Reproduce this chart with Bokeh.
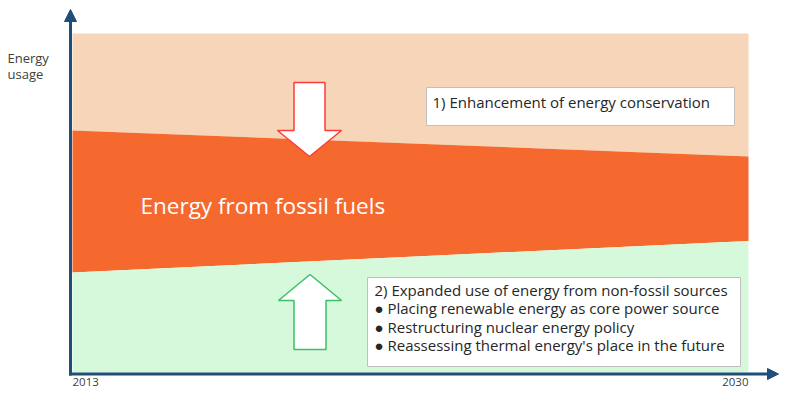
from bokeh.plotting import figure
from bokeh.models import Range1d, Arrow, NormalHead
from bokeh.core.properties import value
from bokeh.embed import file_html
from bokeh.resources import INLINE

# ---- data ----
years = [2013, 2030]
total_usage = [100, 100]
fossil_top = [71.4, 63.7]
nonfossil_top = [29.5, 38.8]
year_labels = ["2013", "2030"]
y_title = ["Energy", "usage"]
fossil_label = ["Energy from fossil fuels"]
box1_lines = ["1) Enhancement of energy conservation"]
box2_lines = [
    "2) Expanded use of energy from non-fossil sources",
    "\u25CF Placing renewable energy as core power source",
    "\u25CF Restructuring nuclear energy policy",
    "\u25CF Reassessing thermal energy's place in the future",
]

# ---- layout helpers (pixel layout -> data space) ----
W, H = 779, 387
KX = 676 / 17.0
Y0 = 372.0
KY = (Y0 - 33) / 100.0
def X(px):
    return 2013 + (px - 72) / KX
def Y(py):
    return (Y0 - py) / KY

FONT = value("Open Sans")
TXT = "#262626"
NAVY = "#1F4E79"

p = figure(width=W, height=H, x_range=Range1d(X(0), X(W)),
           y_range=Range1d(Y(H), Y(0)), output_backend="svg",
           toolbar_location=None, min_border=0)
p.axis.visible = False
p.grid.visible = False
p.outline_line_color = None
p.background_fill_color = "white"

# areas
p.varea(x=years, y1=fossil_top, y2=total_usage, fill_color="#F7D5B9")
p.varea(x=years, y1=nonfossil_top, y2=fossil_top, fill_color="#F5692F")
p.varea(x=years, y1=[0, 0], y2=nonfossil_top, fill_color="#D5F9DA")

# arrows (decorative)
def block_arrow(cx, top, base, tip, sh, hh):
    xs = [cx - sh, cx + sh, cx + sh, cx + hh, cx, cx - hh, cx - sh]
    ys = [top, top, base, base, tip, base, base]
    return [X(v) for v in xs], [Y(v) for v in ys]

dx, dy = block_arrow(309, 82, 130, 156, 15.5, 32)
p.patch(dx, dy, fill_color="white", line_color="#FF3B3B", line_width=1.5)
ux, uy = block_arrow(309.5, 349, 300, 274, 16, 31.5)
p.patch(ux, uy, fill_color="white", line_color="#3DBE6A", line_width=1.5)

# boxes
p.quad(left=[X(426)], right=[X(734)], top=[Y(87)], bottom=[Y(125)],
       fill_color="white", line_color="#C0C0C0", line_width=1)
p.quad(left=[X(367)], right=[X(740)], top=[Y(277)], bottom=[Y(366)],
       fill_color="white", line_color="#C0C0C0", line_width=1)

p.text(x=[X(432)], y=[Y(101)], text=box1_lines, text_font=FONT,
       text_font_size="15px", text_color=TXT, text_baseline="middle")
p.text(x=[X(374)] * 4, y=[Y(289), Y(307.5), Y(326), Y(344.5)], text=box2_lines,
       text_font=FONT, text_font_size="15px", text_color=TXT, text_baseline="middle")

p.text(x=[X(140)], y=[Y(205)], text=fossil_label, text_font=FONT,
       text_font_size="22.5px", text_color="white", text_baseline="middle")

# axis title
p.text(x=[X(7), X(7)], y=[Y(57), Y(73)], text=y_title, text_font=FONT,
       text_font_size="13px", text_color="#404040", text_baseline="middle")

# axes
p.add_layout(Arrow(end=NormalHead(size=12, fill_color=NAVY, line_color=NAVY),
                   x_start=X(70), y_start=Y(375), x_end=X(70), y_end=Y(9),
                   line_color=NAVY, line_width=3))
p.add_layout(Arrow(end=NormalHead(size=11, fill_color=NAVY, line_color=NAVY),
                   x_start=X(68.5), y_start=Y(373.5), x_end=X(778), y_end=Y(373.5),
                   line_color=NAVY, line_width=3))

# year labels
p.text(x=[years[0]], y=[Y(381)], text=[year_labels[0]], text_font=FONT,
       text_font_size="11.5px", text_color="#404040", text_align="left",
       text_baseline="middle")
p.text(x=[years[1]], y=[Y(381)], text=[year_labels[1]], text_font=FONT,
       text_font_size="11.5px", text_color="#404040", text_align="right",
       text_baseline="middle")

open("out.html", "w").write(file_html(p, INLINE))
